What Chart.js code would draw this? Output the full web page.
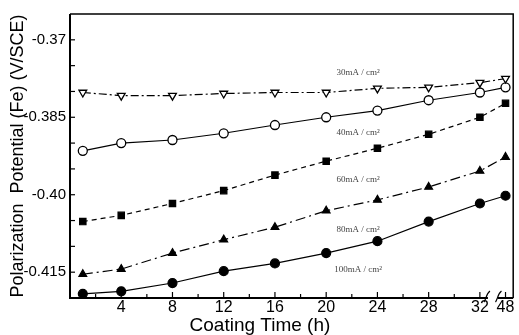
<!DOCTYPE html>
<html>
<head>
<meta charset="utf-8">
<script src="https://cdn.jsdelivr.net/npm/chart.js@4"></script>
<style>
  body { margin: 0; background: #fff; }
  #wrap { width: 519px; height: 335px; }
</style>
</head>
<body>
<div id="wrap"><canvas id="myChart" width="519" height="335"></canvas></div>
<script>
// coating time (h) at each measurement
var hours = [1, 4, 8, 12, 16, 20, 24, 28, 32, 48];

// polarization potential (V/SCE) for each current density
var s30  = [-0.3802, -0.3808, -0.3808, -0.3804, -0.3802, -0.3802, -0.3794, -0.3792, -0.3783, -0.3775];
var s40  = [-0.3915, -0.3900, -0.3894, -0.3881, -0.3865, -0.3850, -0.3837, -0.3817, -0.3802, -0.3792];
var s60  = [-0.4052, -0.4040, -0.4017, -0.3992, -0.3962, -0.3935, -0.3910, -0.3883, -0.3850, -0.3823];
var s80  = [-0.4154, -0.4144, -0.4113, -0.4087, -0.4063, -0.4031, -0.4010, -0.3985, -0.3954, -0.3927];
var s100 = [-0.4192, -0.4187, -0.4171, -0.4148, -0.4133, -0.4113, -0.4090, -0.4052, -0.4017, -0.4002];

var seriesNames = ['30mA / cm²', '40mA / cm²', '60mA / cm²', '80mA / cm²', '100mA / cm²'];

// tick labels
var xTickLabels = [4, 8, 12, 16, 20, 24, 28, 32, 48];
var yTickVals = [-0.37, -0.385, -0.40, -0.415];
var yTickText = ['-0.37', '-0.385', '-0.40', '-0.415'];

// the x axis is broken after 32 h, 48 h sits just past the break
var BREAK_AT = 32, BREAK_POS = 34;
function axisPos(h) { return h > BREAK_AT ? BREAK_POS : h; }

function pts(vals) {
  return hours.map(function (h, i) { return { x: axisPos(h), y: vals[i] }; });
}

// frame, inward ticks and axis break
var framePlugin = {
  id: 'frame',
  beforeDatasetsDraw: function (chart) {
    var c = chart.ctx, a = chart.chartArea;
    var xs = chart.scales.x, ys = chart.scales.y;
    c.save();
    c.strokeStyle = '#000';
    c.lineWidth = 1.5;
    c.beginPath();
    c.moveTo(a.left, a.top); c.lineTo(a.right, a.top); c.lineTo(a.right, a.bottom);
    c.stroke();
    c.lineWidth = 2;
    c.beginPath();
    c.moveTo(a.left, a.top); c.lineTo(a.left, a.bottom); c.lineTo(a.right, a.bottom);
    c.stroke();

    c.lineWidth = 1.2;
    xs.ticks.forEach(function (t) {
      if (t.value <= 0) return;
      var px = xs.getPixelForValue(t.value);
      var len = (t.value % 4 === 0 || t.value === BREAK_POS) ? 6 : 4;
      c.beginPath(); c.moveTo(px, a.bottom); c.lineTo(px, a.bottom - len); c.stroke();
    });
    ys.ticks.forEach(function (t) {
      var py = ys.getPixelForValue(t.value);
      if (py <= a.top + 1 || py >= a.bottom - 1) return;
      c.beginPath(); c.moveTo(a.left, py); c.lineTo(a.left + 5, py); c.stroke();
    });

    // break mark on the x axis
    var b0 = xs.getPixelForValue(32.55), b1 = xs.getPixelForValue(33.45);
    c.fillStyle = '#fff';
    c.fillRect(b0 + 1, a.bottom - 2, b1 - b0 - 2, 4);
    [b0, b1].forEach(function (bx) {
      c.beginPath();
      c.moveTo(bx - 3, a.bottom + 4);
      c.bezierCurveTo(bx - 1, a.bottom + 2, bx - 1, a.bottom - 4, bx + 3, a.bottom - 7);
      c.stroke();
    });
    c.restore();
  },
  afterDatasetsDraw: function (chart, args, opts) {
    var c = chart.ctx, xs = chart.scales.x, ys = chart.scales.y;
    c.save();
    c.font = '9px "Liberation Serif", serif';
    c.fillStyle = '#444';
    c.textAlign = 'center';
    c.textBaseline = 'middle';
    opts.labels.forEach(function (l) {
      c.fillText(l.text, xs.getPixelForValue(l.x), ys.getPixelForValue(l.y));
    });
    c.restore();
  }
};

var ctx = document.getElementById('myChart').getContext('2d');
var chart = new Chart(ctx, {
  type: 'line',
  data: {
    datasets: [
      { label: seriesNames[0], data: pts(s30), borderColor: '#000', borderWidth: 1.2, borderDash: [8, 3, 2, 3],
        pointStyle: 'triangle', rotation: 180, pointRadius: 4.5, pointBackgroundColor: '#fff', pointBorderColor: '#000', pointBorderWidth: 1.3 },
      { label: seriesNames[1], data: pts(s40), borderColor: '#000', borderWidth: 1.2,
        pointStyle: 'circle', pointRadius: 4.5, pointBackgroundColor: '#fff', pointBorderColor: '#000', pointBorderWidth: 1.3 },
      { label: seriesNames[2], data: pts(s60), borderColor: '#000', borderWidth: 1.2, borderDash: [5, 4],
        pointStyle: 'rect', pointRadius: 4.5, pointBackgroundColor: '#000', pointBorderColor: '#000' },
      { label: seriesNames[3], data: pts(s80), borderColor: '#000', borderWidth: 1.2, borderDash: [10, 4, 2, 4],
        pointStyle: 'triangle', pointRadius: 4.5, pointBackgroundColor: '#000', pointBorderColor: '#000' },
      { label: seriesNames[4], data: pts(s100), borderColor: '#000', borderWidth: 1.2,
        pointStyle: 'circle', pointRadius: 4.5, pointBackgroundColor: '#000', pointBorderColor: '#000' }
    ]
  },
  options: {
    responsive: false,
    animation: false,
    layout: { padding: { top: 14, right: 3, left: 0, bottom: 0 } },
    plugins: {
      legend: { display: false },
      tooltip: { enabled: false },
      frame: {
        labels: [
          { text: seriesNames[0], x: 22.5, y: -0.3764 },
          { text: seriesNames[1], x: 22.5, y: -0.3880 },
          { text: seriesNames[2], x: 22.5, y: -0.3971 },
          { text: seriesNames[3], x: 22.5, y: -0.4068 },
          { text: seriesNames[4], x: 22.5, y: -0.4146 }
        ]
      }
    },
    scales: {
      x: {
        type: 'linear',
        min: 0, max: 34.6,
        afterFit: function (s) { s.height = 37; },
        grid: { display: false, drawTicks: false },
        border: { display: false },
        ticks: {
          stepSize: 2, autoSkip: false, includeBounds: false, maxRotation: 0,
          padding: 0, color: '#000',
          font: { family: '"Liberation Sans Narrow", "Liberation Sans", sans-serif', size: 16 },
          callback: function (v) {
            var lab = v === BREAK_POS ? 48 : v;
            return xTickLabels.indexOf(lab) >= 0 ? String(lab) : '';
          }
        },
        title: {
          display: true, text: 'Coating Time (h)            ', color: '#000',
          font: { family: '"Liberation Sans", sans-serif', size: 19, lineHeight: 1 },
          padding: { top: 0, bottom: 0 }
        }
      },
      y: {
        min: -0.42, max: -0.365,
        afterFit: function (s) { s.width = 70; },
        grid: { display: false, drawTicks: false },
        border: { display: false },
        ticks: {
          stepSize: 0.005, autoSkip: false, includeBounds: false,
          padding: 4, color: '#000',
          font: { family: '"Liberation Sans", sans-serif', size: 15 },
          callback: function (v) {
            for (var i = 0; i < yTickVals.length; i++) {
              if (Math.abs(v - yTickVals[i]) < 1e-6) return yTickText[i];
            }
            return '';
          }
        },
        title: {
          display: true, text: 'Polarization  Potential (Fe) (V/SCE)', color: '#000',
          font: { family: '"Liberation Sans", sans-serif', size: 18 },
          padding: { top: 7, bottom: 0 }
        }
      }
    }
  },
  plugins: [framePlugin]
});
</script>
</body>
</html>
